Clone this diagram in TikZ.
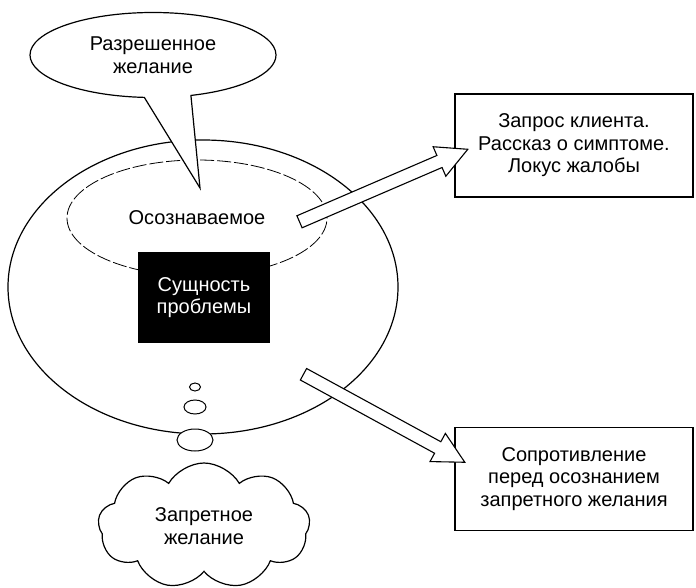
\documentclass[tikz,border=0pt]{standalone}
\usepackage{fontspec}
\setmainfont{Liberation Sans}
\usepackage{tikz}
\usetikzlibrary{positioning}
\usetikzlibrary{calc, shapes.geometric, shapes.callouts, shapes.symbols, shapes.arrows}

\begin{document}
\begin{tikzpicture}[x=1pt, y=-1pt]
	\tikzstyle{txt} = [font=\fontsize{20}{22.5}\selectfont, align=center]
	\tikzstyle{oval} = [draw, ellipse, line width=1.2pt, inner sep=0pt]
	\tikzstyle{bubble} = [oval, fill=white, line width=1pt]
	\tikzstyle{box} = [draw, rectangle, line width=1.4pt, minimum width=238pt, minimum height=103pt, txt]
	\tikzstyle{hollow} = [draw, fill=white, single arrow, line width=1.1pt, inner sep=6pt, single arrow head extend=9.5pt, single arrow tip angle=55, anchor=tail]

	\useasboundingbox (0,0) rectangle (696,588);

	\node [oval, minimum width=390pt, minimum height=294pt] (psyche) at (203,287) {};
	\node [oval, line width=0.8pt, dash pattern=on 14pt off 3pt, minimum width=260pt, minimum height=116pt, txt] (aware) at (197,218) {Осознаваемое};
	\node [fill=black, text=white, minimum width=132pt, minimum height=91pt, txt] (core) at (204,297.5) {Сущность\\проблемы};

	\coordinate (wishtip) at (200,188);
	\node [ellipse callout, draw, fill=white, line width=1.2pt, callout absolute pointer={(wishtip)}, callout pointer arc=22, minimum width=246pt, minimum height=85pt, txt] (allowed) at (153,55) {Разрешенное\\желание};

	\node [bubble, minimum width=11pt, minimum height=8pt] (b1) at (195,387) {};
	\node [bubble, minimum width=22pt, minimum height=14pt, below=8pt of b1] (b2) {};
	\node [bubble, minimum width=36pt, minimum height=22pt, below=14pt of b2] (b3) {};
	\node [cloud, draw, line width=1.2pt, cloud puffs=9, cloud puff arc=120, cloud ignores aspect, minimum width=212pt, minimum height=126pt, txt] (forbidden) at (204,526) {Запретное\\желание};

	\node [box] (request) at (574,145.5) {Запрос клиента.\\Рассказ о симптоме.\\Локус жалобы};
	\node [box] (resist) at (574,479) {Сопротивление\\перед осознанием\\запретного желания};

	% hollow arrows
	\coordinate (t1) at (299,222);
	\coordinate (h1) at ($(request.west)+(13,4)$);
	\coordinate (t2) at (303,374);
	\coordinate (h2) at ($(resist.west)+(10,-17)$);
	\path let \p1 = ($(h1)-(t1)$) in node [hollow, minimum height={veclen(\x1,\y1)}, rotate={atan2(\y1,\x1)}] (toreq) at (t1) {};
	\path let \p1 = ($(h2)-(t2)$) in node [hollow, minimum height={veclen(\x1,\y1)}, rotate={atan2(\y1,\x1)}] (tores) at (t2) {};
\end{tikzpicture}
\end{document}
